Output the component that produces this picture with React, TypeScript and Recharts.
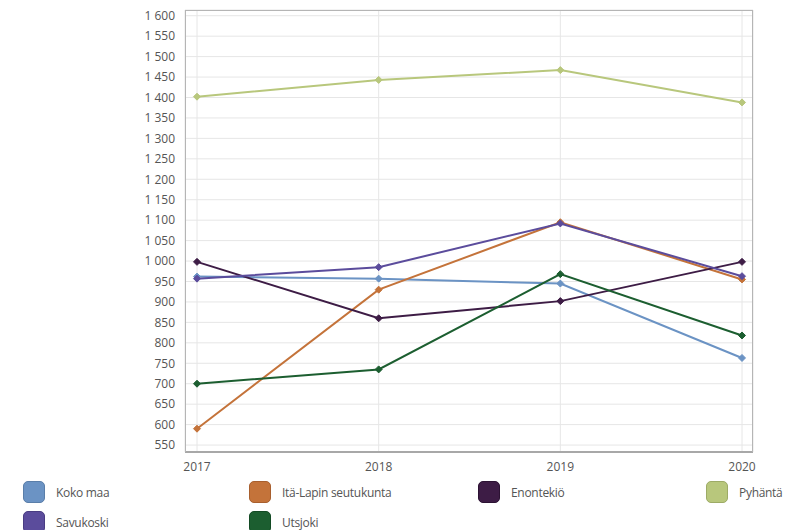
import React from 'react';
import { LineChart, Line, XAxis, YAxis, CartesianGrid } from 'recharts';

const years = ['2017', '2018', '2019', '2020'];
const kokoMaa = [962, 957, 945, 763];
const itaLappi = [590, 930, 1095, 955];
const enontekio = [998, 860, 902, 998];
const pyhanta = [1402, 1443, 1467, 1388];
const savukoski = [957, 985, 1092, 963];
const utsjoki = [700, 735, 968, 818];
const yTicks = [550, 600, 650, 700, 750, 800, 850, 900, 950, 1000, 1050, 1100, 1150, 1200, 1250, 1300, 1350, 1400, 1450, 1500, 1550, 1600];

const series = [
  { key: 'kokoMaa', name: 'Koko maa', values: kokoMaa, color: '#6b93c4', border: '#5a7ea9' },
  { key: 'itaLappi', name: 'Itä-Lapin seutukunta', values: itaLappi, color: '#c4733a', border: '#a85f2e' },
  { key: 'enontekio', name: 'Enontekiö', values: enontekio, color: '#3d1c45', border: '#2c1233' },
  { key: 'pyhanta', name: 'Pyhäntä', values: pyhanta, color: '#b8c77c', border: '#9dab66' },
  { key: 'savukoski', name: 'Savukoski', values: savukoski, color: '#5b4c9c', border: '#493c82' },
  { key: 'utsjoki', name: 'Utsjoki', values: utsjoki, color: '#1c5e30', border: '#134a24' },
];

const data = years.map((y, i) => {
  const row: Record<string, any> = { year: y };
  series.forEach((s) => { row[s.key] = s.values[i]; });
  return row;
});

const fmt = (v: number) => {
  const s = String(v);
  return s.length > 3 ? s.slice(0, s.length - 3) + ' ' + s.slice(s.length - 3) : s;
};

const makeDot = (color: string) => (props: any) => {
  const { cx, cy, index } = props;
  if (cx == null || cy == null) return <g key={index} />;
  const r = 3.5;
  return (
    <polygon
      key={index}
      points={`${cx},${cy - r} ${cx + r},${cy} ${cx},${cy + r} ${cx - r},${cy}`}
      fill={color}
      stroke={color}
    />
  );
};

const legendCols = [23, 249, 478, 706];

export default function App() {
  return (
    <div style={{ position: 'absolute', left: 0, top: 0, width: 787, height: 530, background: '#fff', fontFamily: '"Open Sans", sans-serif', overflow: 'hidden' }}>
      <LineChart width={787} height={475} data={data} margin={{ top: 10, right: 34, left: 0, bottom: 0 }}>
        <CartesianGrid stroke="#e6e6e6" strokeWidth={1} />
        <XAxis
          dataKey="year"
          padding={{ left: 12, right: 11 }}
          height={23}
          tickLine={false}
          axisLine={{ stroke: '#a8a8a8', strokeWidth: 2 }}
          tick={{ fill: '#555', fontSize: 12 }}
          tickMargin={4}
          interval={0}
        />
        <YAxis
          width={185}
          domain={[533, 1614]}
          ticks={yTicks}
          allowDataOverflow
          tickFormatter={fmt}
          tickLine={false}
          axisLine={false}
          tick={{ fill: '#555', fontSize: 12 }}
          tickMargin={4}
          interval={0}
        />
        {series.map((s) => (
          <Line
            key={s.key}
            dataKey={s.key}
            name={s.name}
            stroke={s.color}
            strokeWidth={2}
            dot={makeDot(s.color)}
            activeDot={false}
            isAnimationActive={false}
          />
        ))}
      </LineChart>
      <div style={{ position: 'absolute', left: 185, top: 10, width: 568, height: 442, border: '1px solid #b5b5b5', borderBottom: 'none', boxSizing: 'border-box', pointerEvents: 'none' }} />
      {series.map((s, i) => {
        const row = Math.floor(i / 4);
        const col = i % 4;
        return (
          <div key={s.key} style={{ position: 'absolute', left: legendCols[col], top: 481 + row * 30, display: 'flex', alignItems: 'center' }}>
            <div style={{ width: 22, height: 22, borderRadius: 5, background: s.color, border: `1px solid ${s.border}`, boxSizing: 'border-box' }} />
            <span style={{ marginLeft: 11, fontSize: 12, color: '#555', letterSpacing: -0.3 }}>{s.name}</span>
          </div>
        );
      })}
    </div>
  );
}
